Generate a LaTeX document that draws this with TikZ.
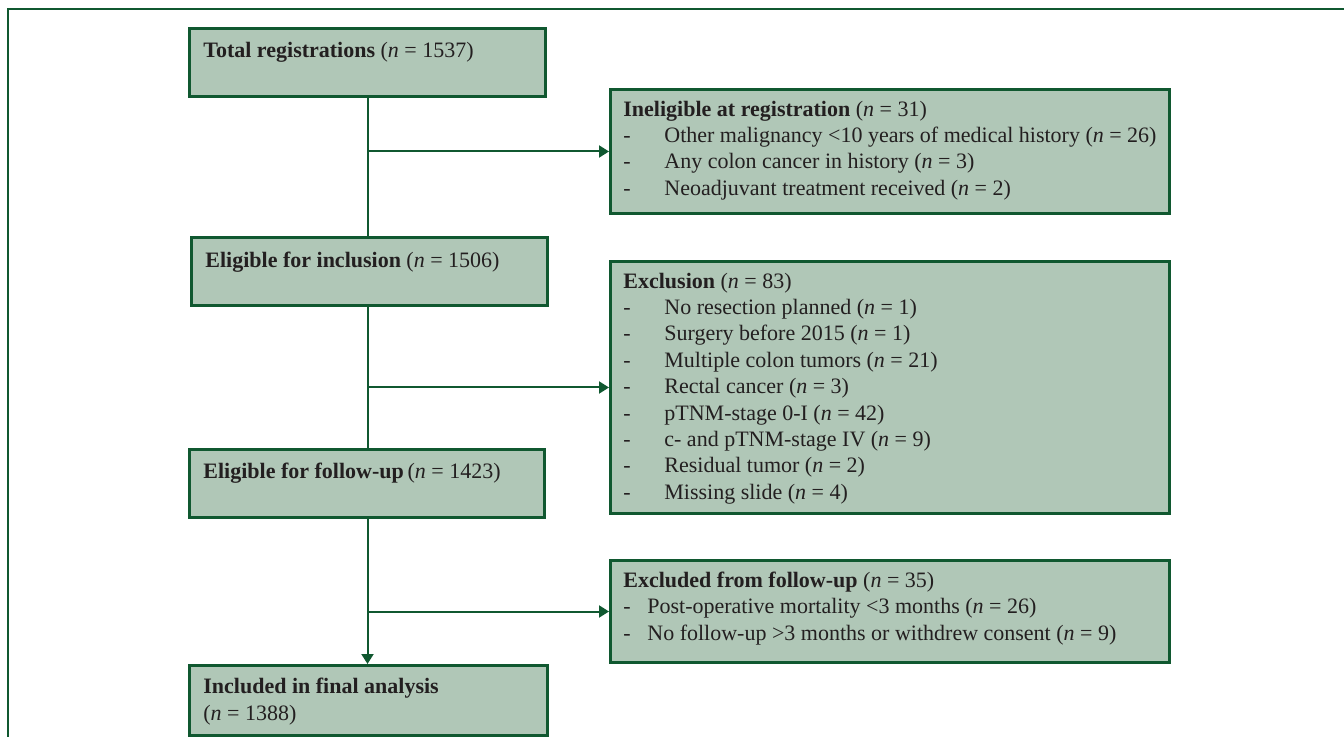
\documentclass[tikz,border=0pt]{standalone}
\usepackage{fontspec}
\setmainfont{Liberation Serif}
\usetikzlibrary{arrows.meta}
\definecolor{FlowGreen}{RGB}{16,88,48}
\definecolor{FlowFill}{RGB}{176,199,183}
\definecolor{FlowText}{RGB}{35,31,32}
\newcommand{\nn}[1]{(\textit{n} = #1)}
\newcommand{\itm}[1]{\makebox[20.5pt][l]{-}#1}
\newcommand{\itmb}[1]{\makebox[12pt][l]{-}#1}

\begin{document}
\begin{tikzpicture}[x=0.5pt,y=0.5pt,yscale=-1,xscale=1,
		flowbox/.style={draw=FlowGreen, line width=1.5pt, fill=FlowFill, anchor=north west, inner sep=0pt},
		flowtxt/.style={anchor=north west, inner sep=0pt, align=left, text=FlowText, font=\fontsize{11}{13.2}\selectfont, execute at begin node=\strut},
		conn/.style={draw=FlowGreen, line width=1pt},
		arr/.style={conn, -{Triangle[length=5pt,width=6pt]}}]
		\useasboundingbox (0,0) rectangle (1344,737);

		% Outer frame (top and left edges only)
		\draw[FlowGreen, line width=1pt] (8,737) -- (8,9) -- (1344,9);

		% Main column of boxes
		\node[flowbox, minimum width=178pt, minimum height=34pt] (tot) at (188,27) {};
		\node[flowbox, minimum width=178pt, minimum height=34pt] (elig) at (190,236) {};
		\node[flowbox, minimum width=177.5pt, minimum height=34pt] (fu) at (188,448) {};
		\node[flowbox, minimum width=179pt, minimum height=35pt] (incl) at (188,664) {};

		% Side boxes
		\node[flowbox, minimum width=279.5pt, minimum height=62pt] (inel) at (609,88) {};
		\node[flowbox, minimum width=279.5pt, minimum height=126pt] (excl) at (609,260) {};
		\node[flowbox, minimum width=279.5pt, minimum height=51pt] (exfu) at (609,559) {};

		% Texts of the main column
		\node[flowtxt] (tot-txt) at (203,39) {\textbf{Total registrations} \nn{1537}};
		\node[flowtxt] (elig-txt) at (205,249) {\textbf{Eligible for inclusion} \nn{1506}};
		\node[flowtxt] (fu-txt) at (203,460) {\textbf{Eligible for follow-up}\,\nn{1423}};
		\node[flowtxt] (incl-txt) at (203,678) {\textbf{Included in final analysis}\\\nn{1388}};

		% Texts of the side boxes
		\node[flowtxt] (inel-txt) at (623,100.5) {\textbf{Ineligible at registration} \nn{31}\\
			\itm{Other malignancy <10 years of medical history \nn{26}}\\
			\itm{Any colon cancer in history \nn{3}}\\
			\itm{Neoadjuvant treatment received \nn{2}}};
		\node[flowtxt] (excl-txt) at (623,272.5) {\textbf{Exclusion} \nn{83}\\
			\itm{No resection planned \nn{1}}\\
			\itm{Surgery before 2015 \nn{1}}\\
			\itm{Multiple colon tumors \nn{21}}\\
			\itm{Rectal cancer \nn{3}}\\
			\itm{pTNM-stage 0-I \nn{42}}\\
			\itm{c- and pTNM-stage IV \nn{9}}\\
			\itm{Residual tumor \nn{2}}\\
			\itm{Missing slide \nn{4}}};
		\node[flowtxt] (exfu-txt) at (623,571.5) {\textbf{Excluded from follow-up} \nn{35}\\
			\itmb{Post-operative mortality <3 months \nn{26}}\\
			\itmb{No follow-up >3 months or withdrew consent \nn{9}}};

		% Vertical connectors
		\draw[conn] (tot.south) -- (tot.south |- elig.north);
		\draw[conn] (tot.south |- elig.south) -- (tot.south |- fu.north);
		\draw[arr] (tot.south |- fu.south) -- (tot.south |- incl.north);

		% Branch arrows
		\draw[arr] (tot.south |- inel.west) -- (inel.west);
		\draw[arr] (tot.south |- excl.west) -- (excl.west);
		\draw[arr] (tot.south |- exfu.west) -- (exfu.west);
	\end{tikzpicture}
\end{document}
